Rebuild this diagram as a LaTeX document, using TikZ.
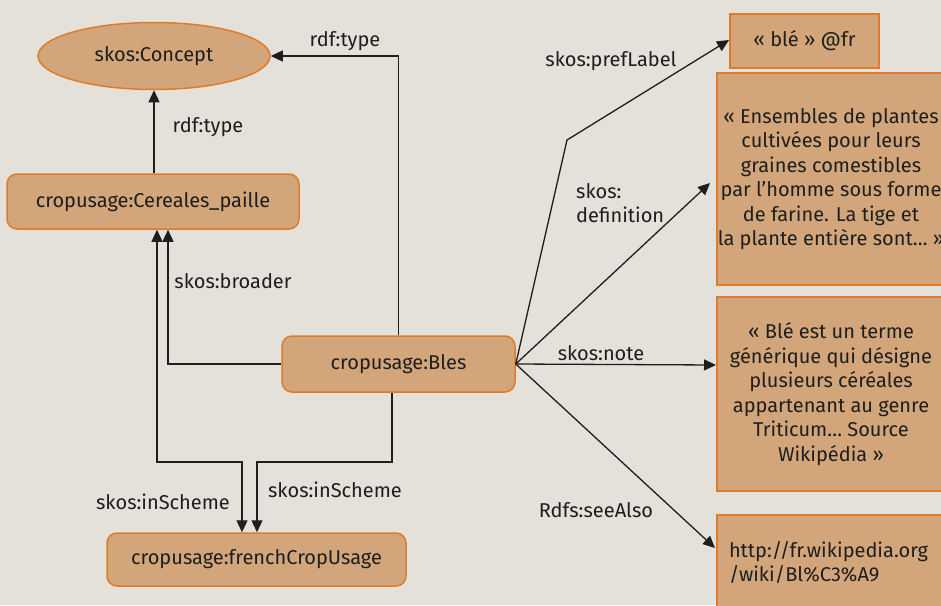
\documentclass[tikz,border=0pt]{standalone}
\usepackage{fontspec}
\setmainfont{Fira Sans}
\usetikzlibrary{arrows.meta,shapes.geometric}
\definecolor{bg}{HTML}{E4E0DA}
\definecolor{boxfill}{HTML}{D2A67A}
\definecolor{boxline}{HTML}{E07B2A}
\definecolor{ink}{HTML}{1E1E1E}
\tikzset{
  every node/.style={font=\fontsize{20}{24.5}\selectfont, text=ink},
  nodebox/.style={draw=boxline, fill=boxfill, line width=1.5pt, inner sep=0pt},
  roundbox/.style={nodebox, rectangle, rounded corners=10pt},
  squarebox/.style={nodebox, rectangle},
  conn/.style={draw=ink, line width=1.3pt},
  arr/.style={conn, -{Triangle[length=12pt,width=11pt]}},
  arrboth/.style={conn, {Triangle[length=12pt,width=11pt]}-{Triangle[length=12pt,width=11pt]}},
  lbl/.style={inner sep=0pt}
}
\begin{document}
\begin{tikzpicture}[x=1pt,y=-1pt]
\useasboundingbox (0,0) rectangle (941,605);
\clip (0,0) rectangle (941,605);
\fill[bg] (0,0) rectangle (941,605);

% nodes
\node[nodebox, ellipse, minimum width=232pt, minimum height=67pt] (concept) at (154,56) {skos:Concept};
\node[roundbox, minimum width=292pt, minimum height=55pt] (cereales) at (153,201.5) {cropusage:Cereales\_paille};
\node[roundbox, minimum width=233pt, minimum height=56pt] (bles) at (398.5,364) {cropusage:Bles};
\node[roundbox, minimum width=299pt, minimum height=53pt] (french) at (256.5,559.5) {cropusage:frenchCropUsage};
\node[squarebox, minimum width=149pt, minimum height=54pt] (ble) at (804.5,41) {« blé » @fr};
\node[squarebox, minimum width=228pt, minimum height=212pt, align=center] (def) at (831,179)
  {« Ensembles de plantes\\cultivées pour leurs\\graines comestibles\\par l’homme sous forme\\de farine. La tige et\\la plante entière sont… »};
\node[squarebox, minimum width=228pt, minimum height=194pt, align=center] (note) at (831,394)
  {« Blé est un terme\\générique qui désigne\\plusieurs céréales\\appartenant au genre\\Triticum… Source\\Wikipédia »};
\node[squarebox, minimum width=228pt, minimum height=95pt, text width=204pt, align=left] (url) at (831,562.5)
  {http://fr.wikipedia.org\\/wiki/Bl\%C3\%A9};

% coordinates
\coordinate (ctop) at (398.5,56);
\coordinate (br) at (168,364);
\coordinate (c1) at (157,462);
\coordinate (c2) at (242,462);
\coordinate (b1) at (392,462);
\coordinate (b2) at (257,462);
\coordinate (pl) at (567,140);
\coordinate (plend) at (729,40);
\coordinate (dend) at (710,183);
\coordinate (nend) at (716,365);
\coordinate (send) at (715,548);

% connectors
\draw[arr] (cereales.north -| concept.south) -- (concept.south);
\draw[arr] (bles.north) -- (ctop) -- (concept.east);
\draw[arr] (bles.west) -- (br) -- (cereales.south -| br);
\draw[arrboth] (cereales.south -| c1) -- (c1) -- (c2) -- (french.north -| c2);
\draw[arr] (bles.south -| b1) -- (b1) -- (b2) -- (french.north -| b2);
\draw[arr] (bles.east) -- (pl) -- (plend);
\draw[arr] (bles.east) -- (dend);
\draw[arr] (bles.east) -- (nend);
\draw[arr] (bles.east) -- (send);

% labels
\node[lbl] (l1) at (345,41) {rdf:type};
\node[lbl] (l2) at (208,127) {rdf:type};
\node[lbl] (l3) at (233,281) {skos:broader};
\node[lbl] (l4) at (163,502) {skos:inScheme};
\node[lbl] (l5) at (335,490) {skos:inScheme};
\node[lbl] (l6) at (611,61) {skos:prefLabel};
\node[lbl, align=left, anchor=west] (l7) at (576,203) {skos:\\definition};
\node[lbl] (l8) at (601,353) {skos:note};
\node[lbl] (l9) at (596,510) {Rdfs:seeAlso};
\end{tikzpicture}
\end{document}
